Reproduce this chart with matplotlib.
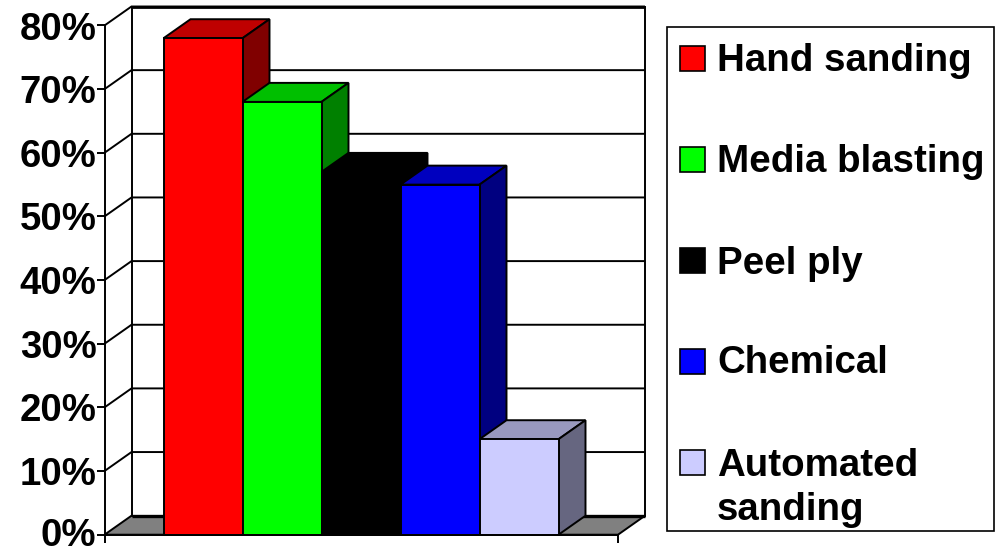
import matplotlib
matplotlib.use("Agg")
import matplotlib.pyplot as plt
from matplotlib.patches import Polygon, Rectangle
from matplotlib.transforms import ScaledTranslation

categories = ["Hand sanding", "Media blasting", "Peel ply", "Chemical", "Automated\nsanding"]
values = [78, 68, 57, 55, 15]
front_colors = ["#FF0000", "#00FF00", "#000000", "#0000FF", "#CCCCFF"]
top_colors = ["#BF0000", "#00BF00", "#000000", "#0000BF", "#9999BF"]
side_colors = ["#800000", "#008000", "#000000", "#000080", "#666680"]
ticks = [0, 10, 20, 30, 40, 50, 60, 70, 80]
tick_labels = ["0%", "10%", "20%", "30%", "40%", "50%", "60%", "70%", "80%"]

W, H = 996, 548
plt.rcParams["font.family"] = ["Liberation Sans", "DejaVu Sans"]
plt.rcParams["font.weight"] = "bold"

fig = plt.figure(figsize=(W / 100, H / 100), dpi=100)
ax = fig.add_axes([104.5 / W, (H - 534.7) / H, 513.5 / W, 509.2 / H])
ax.set_ylim(0, 80)
bar_px = 79.0
x_left = -59.0 / bar_px
x_right = 454.5 / bar_px
ax.set_xlim(x_left, x_right)
dx = 27.0 / bar_px
dy = 19.0 / (509.2 / 80)
lw = 1.4


def poly(pts, color, z):
    ax.add_patch(Polygon(pts, closed=True, facecolor=color, edgecolor="black",
                         linewidth=lw, clip_on=False, zorder=z, joinstyle="miter"))


# floor and back wall
poly([(x_left, 0), (x_right, 0), (x_right + dx, dy), (x_left + dx, dy)], "#808080", 1)
poly([(x_left + dx, dy), (x_right + dx, dy), (x_right + dx, 80 + dy), (x_left + dx, 80 + dy)], "white", 1)
ax.plot([x_left + dx, x_right + dx], [dy, dy], color="black", lw=2.4, clip_on=False, zorder=2,
        solid_capstyle="butt")
ax.plot([x_left + dx, x_right + dx], [80 + dy, 80 + dy], color="black", lw=2.0, clip_on=False, zorder=2,
        solid_capstyle="butt")

# grid
for t in ticks[1:]:
    ax.plot([x_left, x_left + dx, x_right + dx], [t, t + dy, t + dy], color="black", lw=lw,
            clip_on=False, zorder=2, solid_joinstyle="miter", solid_capstyle="butt")

# bars, left to right so each one hides the side of the previous
for i in range(len(values)):
    v = values[i]
    z = 3 + i
    poly([(i, v), (i + 1, v), (i + 1 + dx, v + dy), (i + dx, v + dy)], top_colors[i], z)
    poly([(i + 1, 0), (i + 1 + dx, dy), (i + 1 + dx, v + dy), (i + 1, v)], side_colors[i], z)
    poly([(i, 0), (i + 1, 0), (i + 1, v), (i, v)], front_colors[i], z)

ax.patch.set_visible(False)
for s in ["top", "right"]:
    ax.spines[s].set_visible(False)
ax.spines["left"].set_linewidth(lw)
ax.spines["bottom"].set_linewidth(lw)
ax.spines["left"].set_zorder(20)
ax.spines["bottom"].set_zorder(20)
ax.set_yticks(ticks)
ax.set_yticklabels(tick_labels, fontsize=27.6, fontweight="bold", va="center_baseline")
ax.set_xticks([x_left, x_right])
ax.set_xticklabels(["", ""])
ax.tick_params(axis="both", length=5.8, width=lw, pad=0)

# 0% sits right on the bottom edge, lift it a little so it stays whole
lab0 = ax.get_yticklabels()[0]
lab0.set_transform(lab0.get_transform() + ScaledTranslation(0, 3 / 100, fig.dpi_scale_trans))

# legend box
fig.add_artist(Rectangle((667 / W, (H - 531) / H), 327 / W, 504 / H, transform=fig.transFigure,
                         facecolor="white", edgecolor="black", linewidth=1.2))
swatch_y = [58.5, 159.5, 260.5, 361, 462]
text_y = [61, 162, 264, 363, 488]
for i in range(len(categories)):
    fig.add_artist(Rectangle((680 / W, (H - swatch_y[i] - 12.5) / H), 25 / W, 25 / H,
                             transform=fig.transFigure, facecolor=front_colors[i],
                             edgecolor="black", linewidth=1.2))
    fig.text(717 / W, (H - text_y[i]) / H, categories[i], fontsize=27.7, fontweight="bold",
             ha="left", va="center", linespacing=1.28)

fig.savefig("out.png", dpi=100)
